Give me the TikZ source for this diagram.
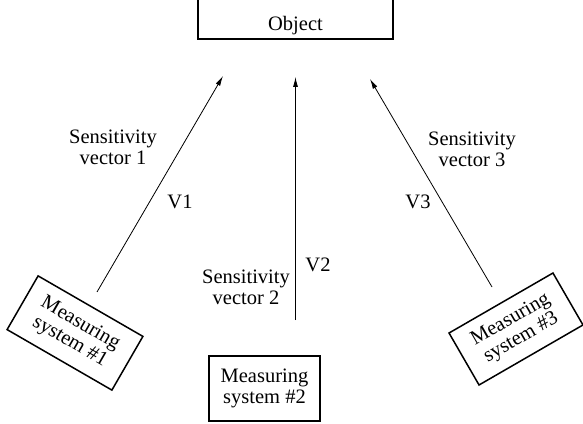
\documentclass[tikz,border=0pt]{standalone}
\usepackage{fontspec}
\setmainfont{Liberation Serif}
\usetikzlibrary{arrows.meta}
\tikzset{every node/.append style={font=\fontsize{20.5}{21}\selectfont}}
\tikzset{msbox/.style={draw,line width=1.5pt,minimum width=121pt,
    minimum height=62pt,align=center,inner sep=0pt}}
\tikzset{svec/.style={line width=0.8pt,-{Latex[length=10pt,width=5pt]}}}

\begin{document}
\begin{tikzpicture}[x=1pt,y=1pt]
  \useasboundingbox (0,0) rectangle (583,423);

  \coordinate (s1) at (97,131);
  \coordinate (t1) at (223,347);
  \coordinate (s2) at (295.5,103);
  \coordinate (t2) at (295.5,346);
  \coordinate (s3) at (492,136);
  \coordinate (t3) at (370,344);

  \node[draw,line width=1.5pt,anchor=south,minimum width=195pt,
    text height=50pt,text depth=4pt,inner xsep=0pt,inner ysep=5pt]
    (obj) at (295.5,383) {Object};

  \node[msbox,rotate=-30] (ms1) at (75,90) {Measuring\\system \#1};
  \node[msbox,minimum width=111pt,minimum height=65pt] (ms2) at (264.5,34.5)
    {Measuring\\system \#2};
  \node[msbox,rotate=30,minimum width=120pt,minimum height=60pt] (ms3)
    at (516,94) {Measuring\\system \#3};

  \draw[svec] (s1)--(t1);
  \draw[svec] (s2)--(t2);
  \draw[svec] (s3)--(t3);

  \node[align=center] (sens1) at (113,276) {Sensitivity\\vector 1};
  \node[align=center] (sens2) at (246,136) {Sensitivity\\vector 2};
  \node[align=center] (sens3) at (472,274) {Sensitivity\\vector 3};

  \node (v1) at (180,221) {V1};
  \node (v2) at (318,158) {V2};
  \node (v3) at (418,221) {V3};

\end{tikzpicture}
\end{document}
